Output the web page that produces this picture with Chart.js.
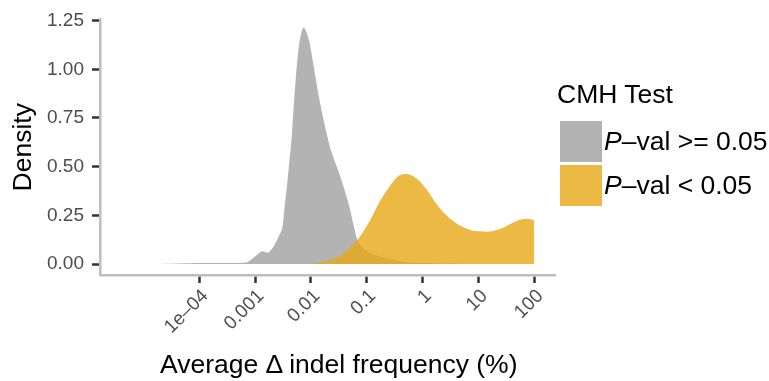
<!DOCTYPE html>
<html>
<head>
<meta charset="utf-8">
<script src="https://cdn.jsdelivr.net/npm/chart.js@4.4.1/dist/chart.umd.min.js"></script>
<style>
  html, body { margin: 0; padding: 0; background: #ffffff; overflow: hidden; }
  #wrap { position: relative; width: 769px; height: 381px; font-family: "Liberation Sans", Arial, sans-serif; }
  #c { position: absolute; left: 0; top: 0; }
  .lg-title { position: absolute; left: 557px; top: 81px; font-size: 26.5px; line-height: 26px; color: #000; white-space: nowrap; }
  .lg-key { position: absolute; left: 560px; width: 42px; height: 41px; }
  .lg-label { position: absolute; left: 604px; font-size: 26.5px; line-height: 26px; color: #000; white-space: nowrap; }
  .x-title { position: absolute; left: 160px; top: 351px; font-size: 26.5px; line-height: 26px; color: #000; white-space: nowrap; }
</style>
</head>
<body>
<div id="wrap">
  <canvas id="c" width="769" height="381"></canvas>
  <div class="lg-title">CMH Test</div>
  <div class="lg-key" id="k1" style="top:121px;"></div>
  <div class="lg-label" style="top:128px;"><i>P</i>–val &gt;= 0.05</div>
  <div class="lg-key" id="k2" style="top:165px;"></div>
  <div class="lg-label" style="top:172px;"><i>P</i>–val &lt; 0.05</div>
  <div class="x-title" id="xt"></div>
</div>
<script>
// ---- data (x in %, y = density) ----
const seriesNames = ["P–val >= 0.05", "P–val < 0.05"];
const xAxisTitle = "Average Δ indel frequency (%)";
const yAxisTitle = "Density";

const grayX = [1.10e-5, 2.90e-5, 6.6e-5, 1.51e-4, 3.45e-4, 6.9e-4, 8.2e-4, 1.01e-3, 1.37e-3, 1.66e-3,
  1.96e-3, 2.38e-3, 2.73e-3, 3.13e-3, 3.42e-3, 3.79e-3, 4.12e-3, 4.43e-3, 4.86e-3, 5.28e-3, 5.98e-3,
  6.78e-3, 7.45e-3, 8.32e-3, 9.42e-3, 0.0107, 0.0124, 0.0143, 0.0163, 0.0215, 0.0265,
  0.0326, 0.040, 0.0492, 0.0581, 0.0686, 0.0841, 0.112, 0.170, 0.257, 0.388,
  0.887, 3.07, 10.6];
const grayY = [0, 0.002, 0.004, 0.005, 0.005, 0.008, 0.02, 0.04, 0.066, 0.058,
  0.075, 0.115, 0.15, 0.2, 0.31, 0.42, 0.53, 0.62, 0.79, 0.93, 1.10,
  1.19, 1.215, 1.19, 1.14, 1.05, 0.94, 0.84, 0.76, 0.61, 0.53,
  0.46, 0.38, 0.29, 0.2, 0.12, 0.085, 0.06, 0.04, 0.025, 0.015,
  0.007, 0.003, 0];

const goldX = [0.0107, 0.0143, 0.0244, 0.040, 0.0658, 0.0859, 0.112, 0.170, 0.257, 0.344,
  0.478, 0.638, 0.887, 1.34, 1.87, 2.68, 3.77, 5.31, 7.6, 10.6,
  14.2, 18.4, 24.2, 31.9, 41.4, 55.3, 72.9, 87.1, 100];
const goldY = [0, 0.01, 0.025, 0.06, 0.12, 0.165, 0.22, 0.32, 0.40, 0.445,
  0.462, 0.455, 0.425, 0.36, 0.30, 0.25, 0.215, 0.19, 0.172, 0.168,
  0.166, 0.17, 0.18, 0.196, 0.212, 0.227, 0.233, 0.23, 0.224];

const xTickValues = [1e-4, 1e-3, 1e-2, 1e-1, 1, 10, 100];
const xTickLabels = ["1e–04", "0.001", "0.01", "0.1", "1", "10", "100"];
const yTickValues = [0, 0.25, 0.5, 0.75, 1.0, 1.25];
const yTickLabels = ["0.00", "0.25", "0.50", "0.75", "1.00", "1.25"];

const grayFill = "rgba(160,160,160,0.8)";
const goldFill = "rgba(232,168,22,0.8)";
document.getElementById("k1").style.background = grayFill;
document.getElementById("k2").style.background = goldFill;
document.getElementById("xt").textContent = xAxisTitle;

Chart.defaults.font.family = '"Liberation Sans", Arial, sans-serif';

const toPts = (xs, ys) => xs.map((x, i) => ({ x: x, y: ys[i] }));

new Chart(document.getElementById("c"), {
  type: "line",
  data: {
    datasets: [
      { label: seriesNames[0], data: toPts(grayX, grayY), order: 2,
        backgroundColor: grayFill, borderWidth: 0, borderColor: "rgba(0,0,0,0)",
        pointRadius: 0, fill: "origin", cubicInterpolationMode: "monotone" },
      { label: seriesNames[1], data: toPts(goldX, goldY), order: 1,
        backgroundColor: goldFill, borderWidth: 0, borderColor: "rgba(0,0,0,0)",
        pointRadius: 0, fill: "origin", cubicInterpolationMode: "monotone" }
    ]
  },
  options: {
    responsive: false,
    animation: false,
    devicePixelRatio: 1,
    layout: { padding: { left: 0, right: 214, top: 18, bottom: 0 } },
    plugins: { legend: { display: false }, tooltip: { enabled: false } },
    scales: {
      x: {
        type: "logarithmic",
        min: 1.67e-6,
        max: 235,
        afterBuildTicks: (s) => { s.ticks = xTickValues.map(v => ({ value: v })); },
        afterFit: (s) => { s.height = 106; },
        border: { display: true, color: "#BEBEBE", width: 2.5 },
        grid: { display: true, drawOnChartArea: false, drawTicks: true, tickLength: 8,
                tickColor: "#333333", tickWidth: 2.5, color: "rgba(0,0,0,0)" },
        ticks: {
          autoSkip: false, minRotation: 45, maxRotation: 45, padding: 2, labelOffset: 6,
          color: "#4D4D4D", font: { size: 19 },
          callback: (v, i) => xTickLabels[i]
        },
        title: { display: false }
      },
      y: {
        type: "linear",
        min: -0.056,
        max: 1.256,
        afterBuildTicks: (s) => { s.ticks = yTickValues.map(v => ({ value: v })); },
        afterFit: (s) => { s.width = 100; },
        border: { display: true, color: "#BEBEBE", width: 2.5 },
        grid: { display: true, drawOnChartArea: false, drawTicks: true, tickLength: 8,
                tickColor: "#333333", tickWidth: 2.5, color: "rgba(0,0,0,0)" },
        ticks: {
          padding: 8, color: "#4D4D4D", font: { size: 19 },
          callback: (v, i) => yTickLabels[i]
        },
        title: { display: true, text: yAxisTitle, color: "#000000",
                 font: { size: 26.5 }, padding: { top: 8, bottom: 0 } }
      }
    }
  }
});
</script>
</body>
</html>
